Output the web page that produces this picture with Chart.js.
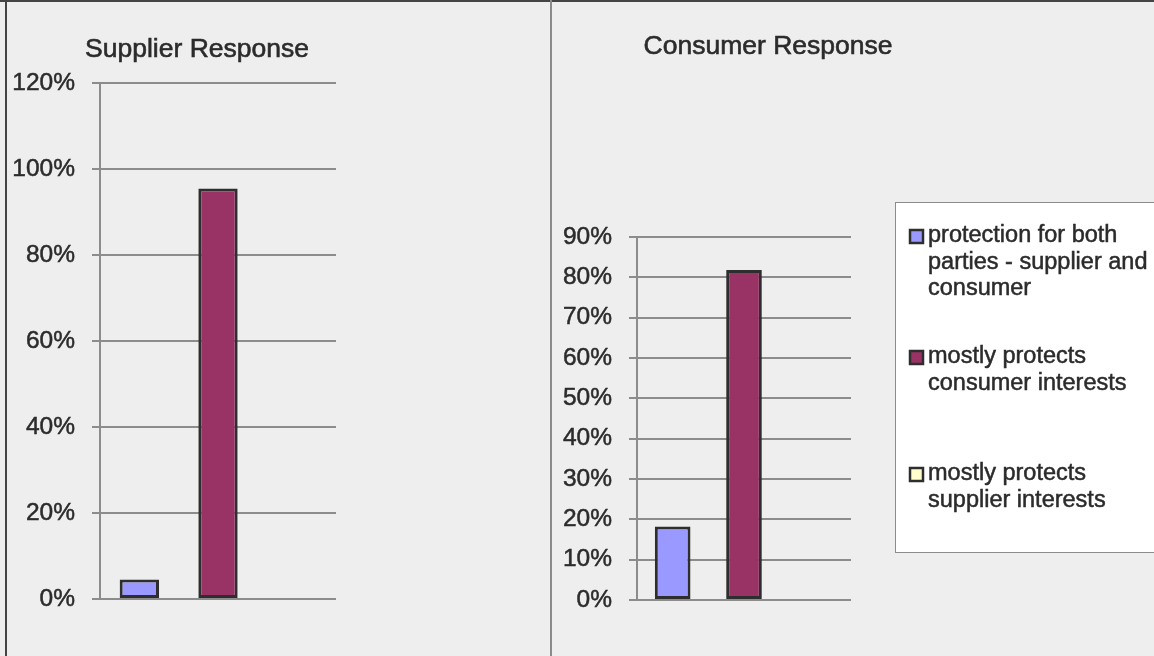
<!DOCTYPE html>
<html>
<head>
<meta charset="utf-8">
<script src="https://cdn.jsdelivr.net/npm/chart.js@4.4.1/dist/chart.umd.min.js"></script>
<style>
  body { margin: 0; background: #eeeeee; }
  #page { position: relative; width: 1154px; height: 656px; overflow: hidden; background: #eeeeee; }
  canvas { position: absolute; top: 0; }
  #supplier { left: 0; }
  #consumer { left: 552px; }
  .rule { position: absolute; }
  #topRule { left: 0; top: 0; width: 1154px; height: 2px; background: #444; }
  #leftRule { left: 5px; top: 0; width: 2px; height: 656px; background: #444; }
  #midRule { left: 550px; top: 0; width: 2px; height: 656px; background: #8a8a8a; }
</style>
</head>
<body>
<div id="page">
  <canvas id="supplier" width="551" height="656"></canvas>
  <canvas id="consumer" width="602" height="656"></canvas>
  <div class="rule" id="topRule"></div>
  <div class="rule" id="leftRule"></div>
  <div class="rule" id="midRule"></div>
</div>
<script>
// answer options, same order in both panels
const categories = [
  'protection for both parties - supplier and consumer',
  'mostly protects consumer interests',
  'mostly protects supplier interests'
];
const legendLines = [
  ['protection for both', 'parties - supplier and', 'consumer'],
  ['mostly protects', 'consumer interests'],
  ['mostly protects', 'supplier interests']
];
const supplierValues = [4.55, 95.45, 0];
const consumerValues = [18.2, 81.8, 0];
const barColors = ['#9999ff', '#993366', '#ffffcc'];

const FONT = "'Liberation Sans', Arial, sans-serif";
const TEXT = '#2b2b2b';
const GRID = '#8c8c8c';
const EDGE = '#2e2e2e';

// draw text with a hairline stroke so it reads a bit heavier
function heavyText(ctx, t, x, y) {
  ctx.fillText(t, x, y);
  ctx.strokeText(t, x, y);
}

// title text placed over the panel
const panelTitle = {
  id: 'panelTitle',
  afterDraw(chart, args, opts) {
    const ctx = chart.ctx;
    ctx.save();
    ctx.font = '26.5px ' + FONT;
    ctx.fillStyle = TEXT;
    ctx.strokeStyle = TEXT;
    ctx.lineWidth = 0.6;
    ctx.textAlign = 'center';
    ctx.textBaseline = 'middle';
    heavyText(ctx, opts.text, opts.x, opts.y);
    ctx.restore();
  }
};

// boxed legend with wrapped entries
const boxLegend = {
  id: 'boxLegend',
  afterDraw(chart, args, opts) {
    if (!opts.show) return;
    const ctx = chart.ctx;
    ctx.save();
    ctx.fillStyle = '#ffffff';
    ctx.fillRect(opts.x, opts.y, opts.w, opts.h);
    ctx.strokeStyle = '#8c8c8c';
    ctx.lineWidth = 1;
    ctx.strokeRect(opts.x + 0.5, opts.y + 0.5, opts.w, opts.h);
    ctx.font = '23.5px ' + FONT;
    ctx.textBaseline = 'middle';
    ctx.textAlign = 'left';
    legendLines.forEach((lines, i) => {
      const y0 = opts.rows[i];
      ctx.fillStyle = barColors[i];
      ctx.fillRect(opts.x + 15, y0 - 6, 13, 13);
      ctx.strokeStyle = EDGE;
      ctx.lineWidth = 2.5;
      ctx.strokeRect(opts.x + 15, y0 - 6, 13, 13);
      ctx.fillStyle = TEXT;
      ctx.strokeStyle = TEXT;
      ctx.lineWidth = 0.5;
      lines.forEach((t, j) => heavyText(ctx, t, opts.x + 33, y0 + j * 26.5));
    });
    ctx.restore();
  }
};

function makeChart(id, values, yMax, yStep, axisWidth, pad, title, legend) {
  return new Chart(document.getElementById(id), {
    type: 'bar',
    data: {
      labels: categories,
      datasets: [{
        data: values,
        backgroundColor: barColors,
        borderColor: EDGE,
        borderWidth: 3,
        borderSkipped: false,
        barPercentage: 0.5,
        categoryPercentage: 1
      }]
    },
    options: {
      responsive: false,
      animation: false,
      layout: { padding: pad },
      plugins: {
        legend: { display: false },
        tooltip: { enabled: false },
        panelTitle: title,
        boxLegend: legend
      },
      scales: {
        x: {
          ticks: { display: false },
          grid: { display: false },
          border: { display: false },
          afterFit(scale) { scale.height = 0; }
        },
        y: {
          min: 0,
          max: yMax,
          ticks: {
            stepSize: yStep,
            padding: 17,
            color: TEXT,
            textStrokeColor: TEXT,
            textStrokeWidth: 0.5,
            font: { family: FONT, size: 24.5 },
            callback: v => v + '%'
          },
          grid: { color: GRID, lineWidth: 2, tickLength: 8 },
          border: { display: true, color: GRID, width: 2 },
          afterFit(scale) { scale.width = axisWidth; }
        }
      }
    },
    plugins: [panelTitle, boxLegend]
  });
}

makeChart('supplier', supplierValues, 120, 20, 100,
  { left: 0, top: 83, right: 215, bottom: 57 },
  { text: 'Supplier Response', x: 197, y: 50 },
  { show: false });

makeChart('consumer', consumerValues, 90, 10, 85,
  { left: 0, top: 237, right: 303, bottom: 56 },
  { text: 'Consumer Response', x: 216, y: 47 },
  { show: true, x: 343, y: 202, w: 270, h: 350, rows: [236, 357, 474] });
</script>
</body>
</html>
